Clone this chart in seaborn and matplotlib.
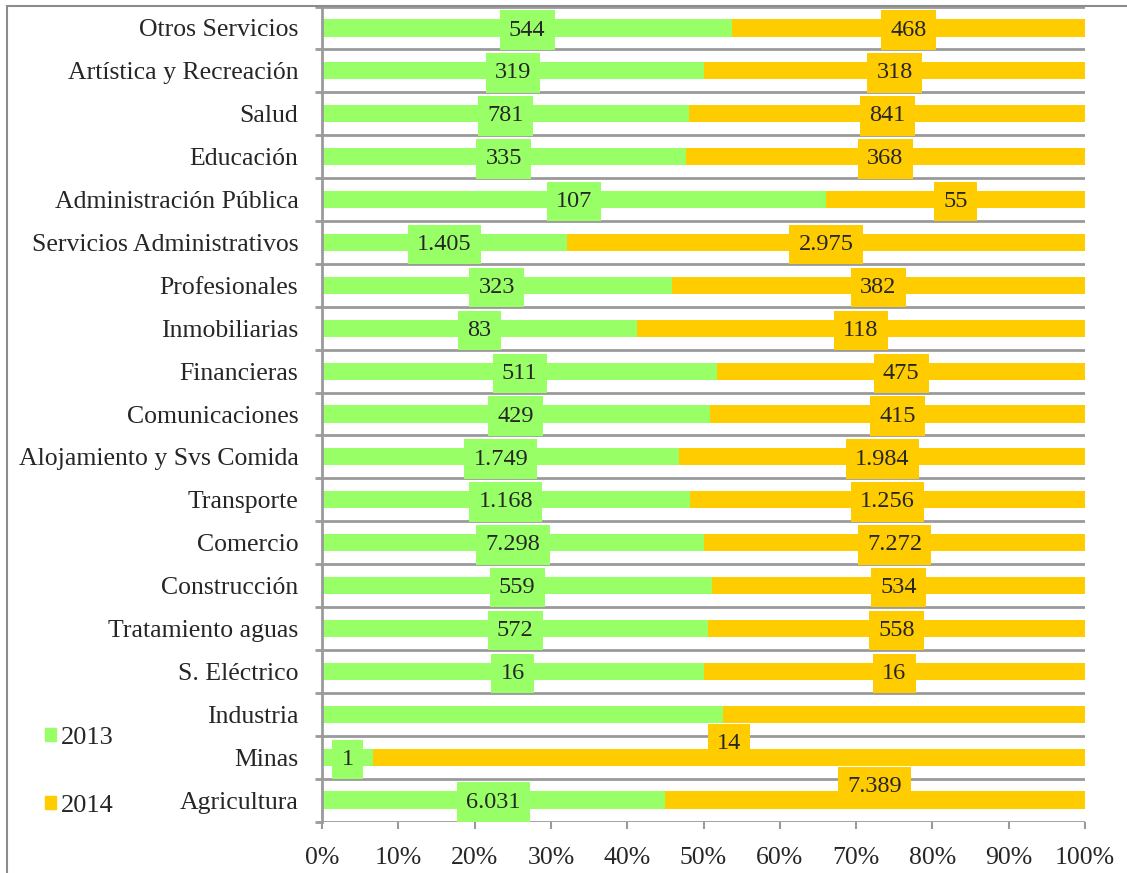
import numpy as np
import pandas as pd
import matplotlib.pyplot as plt
import seaborn as sns
from matplotlib.patches import Patch, Rectangle

# data, top to bottom as in the chart
sectors = ['Otros Servicios', 'Artística y Recreación', 'Salud', 'Educación',
           'Administración Pública', 'Servicios Administrativos', 'Profesionales',
           'Inmobiliarias', 'Financieras', 'Comunicaciones', 'Alojamiento y Svs Comida',
           'Transporte', 'Comercio', 'Construcción', 'Tratamiento aguas',
           'S. Eléctrico', 'Industria', 'Minas', 'Agricultura']
v2013 = [544, 319, 781, 335, 107, 1405, 323, 83, 511, 429, 1749,
         1168, 7298, 559, 572, 16, 1050, 1, 6031]
v2014 = [468, 318, 841, 368, 55, 2975, 382, 118, 475, 415, 1984,
         1256, 7272, 534, 558, 16, 950, 14, 7389]
# Industria has no data labels in the chart
no_label = ['Industria']
# 2014 labels Excel pushed upwards
raised = ['Minas', 'Agricultura']

green = '#99FF66'
orange = '#FFCC00'
grid_col = '#9a9a9a'

df = pd.DataFrame({'sector': sectors, 'y2013': v2013, 'y2014': v2014})
df['total'] = df['y2013'] + df['y2014']
df['p2013'] = df['y2013'] / df['total'] * 100
df['p2014'] = df['y2014'] / df['total'] * 100
df['pall'] = df['p2013'] + df['p2014']

sns.set_style('white')
plt.rcParams['font.family'] = ['Liberation Serif', 'DejaVu Serif']

fig = plt.figure(figsize=(11.27, 8.73), dpi=100)
ax = fig.add_axes([322/1127, 1-821.5/873, (1085-322)/1127, (821.5-6.5)/873])

sns.barplot(data=df, x='pall', y='sector', orient='h', color=orange,
            width=0.4, saturation=1, ax=ax, zorder=2)
sns.barplot(data=df, x='p2013', y='sector', orient='h', color=green,
            width=0.4, saturation=1, ax=ax, zorder=2)
for p in ax.patches:
    p.set_edgecolor('none')

# data labels
def fmt(v):
    return f'{v:,}'.replace(',', '.')

for i, row in df.iterrows():
    if row['sector'] in no_label:
        continue
    ax.text(row['p2013'] / 2, i + 0.05, fmt(row['y2013']), ha='center', va='center',
            fontsize=17.5, zorder=5,
            bbox=dict(boxstyle='square,pad=0.38', fc=green, ec='none'))
    y2 = i - 0.37 if row['sector'] in raised else i
    ax.text(row['p2013'] + row['p2014'] / 2, y2 + 0.05, fmt(row['y2014']), ha='center',
            va='center', fontsize=17.5, zorder=5,
            bbox=dict(boxstyle='square,pad=0.38', fc=orange, ec='none'))

ax.set_xlim(0, 100)
ax.set_ylim(len(sectors) - 0.5, -0.5)
ax.set_xticks(np.arange(0, 101, 10))
ax.set_xticklabels([f'{t}%' for t in range(0, 101, 10)], fontsize=18.5)
ax.set_yticks(range(len(sectors)))
ax.set_yticklabels(sectors, fontsize=18.5)
ax.set_yticks(np.arange(-0.5, len(sectors), 1), minor=True)
ax.tick_params(axis='y', which='major', length=0, pad=17)
ax.tick_params(axis='y', which='minor', length=5, width=2, color=grid_col, left=True)
ax.tick_params(axis='x', length=5, width=1.5, color=grid_col, bottom=True, pad=13)
ax.grid(axis='y', which='minor', color=grid_col, lw=2, zorder=1)
ax.set_axisbelow(True)
ax.set_xlabel('')
ax.set_ylabel('')
for s in ['top', 'right', 'bottom']:
    ax.spines[s].set_visible(False)
ax.spines['left'].set_color(grid_col)
ax.spines['left'].set_linewidth(2)

handles = [Patch(color=green), Patch(color=orange)]
fig.legend(handles, ['2013', '2014'], loc='upper left',
           bbox_to_anchor=(45/1127, 1-727/873), frameon=False, fontsize=19,
           handlelength=0.4, handleheight=0.4, handletextpad=0.2,
           labelspacing=1.75, borderpad=0, borderaxespad=0)

# outer chart frame
fig.patches.append(Rectangle((7/1127, -0.1), 1.2, 1.1 - 6/873,
                             transform=fig.transFigure, fill=False,
                             ec='#8c8c8c', lw=1.5))

plt.savefig('out.png', dpi=100)
